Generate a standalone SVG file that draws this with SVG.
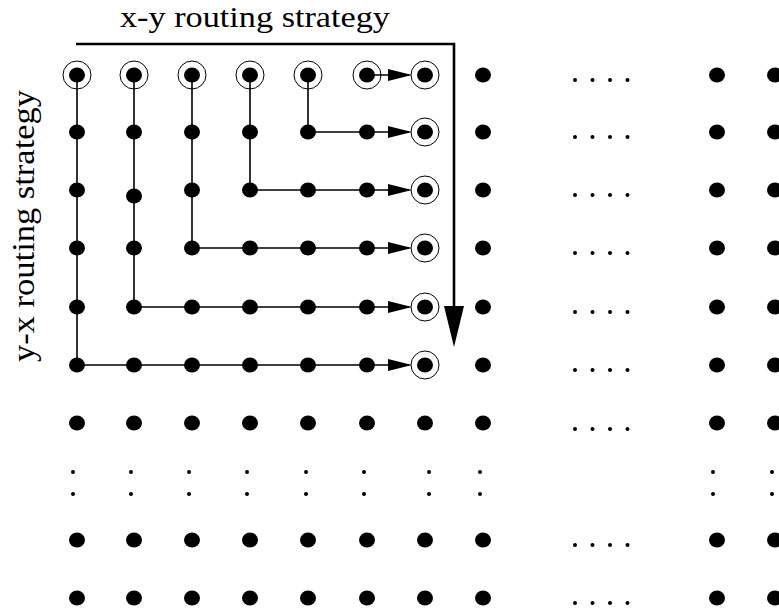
<svg xmlns="http://www.w3.org/2000/svg" width="779" height="614" viewBox="0 0 779 614">
<style>
.dot{fill:#000}
.ring{fill:none;stroke:#000;stroke-width:1}
.sd{fill:#000}
.route{fill:none;stroke:#000;stroke-width:1.6}
.big{fill:none;stroke:#000;stroke-width:2.6}
.lbl{font-family:"Liberation Serif","Times New Roman",serif;font-size:32px;fill:#000}
.top{font-size:30px}
</style>
<defs>
<marker id="ah" viewBox="0 0 24 12" refX="21" refY="6" markerWidth="24" markerHeight="12" markerUnits="userSpaceOnUse" orient="auto"><path d="M0 0 L24 6 L0 12 z" fill="#000"/></marker>
<marker id="bigah" viewBox="0 0 41 20" refX="14" refY="10" markerWidth="41" markerHeight="20" markerUnits="userSpaceOnUse" orient="auto"><path d="M0 0 L41 10 L0 20 z" fill="#000"/></marker>
</defs>
<rect width="779" height="614" fill="#fff"/>
<g id="label-xy"><text class="lbl top" x="120" y="27" textLength="270" lengthAdjust="spacingAndGlyphs">x-y routing strategy</text></g>
<g id="label-yx"><text class="lbl" transform="translate(34,362) rotate(-90)" x="0" y="0" textLength="272" lengthAdjust="spacingAndGlyphs">y-x routing strategy</text></g>
<g id="connectors">
<path class="big" d="M76 44 H454 V320" marker-end="url(#bigah)"/>
<path class="route" d="M77 75 V365 H409" marker-end="url(#ah)"/>
<path class="route" d="M134 75 V307 H409" marker-end="url(#ah)"/>
<path class="route" d="M192 75 V248 H409" marker-end="url(#ah)"/>
<path class="route" d="M250 75 V190 H409" marker-end="url(#ah)"/>
<path class="route" d="M308 75 V132 H409" marker-end="url(#ah)"/>
<path class="route" d="M367 75 H409" marker-end="url(#ah)"/>
</g>
<g id="row1">
<g id="n1-1"><circle class="ring" cx="77" cy="75" r="14"/><ellipse class="dot" cx="77" cy="75" rx="8" ry="7.5"/></g>
<g id="n1-2"><circle class="ring" cx="134" cy="75" r="14"/><ellipse class="dot" cx="134" cy="75" rx="8" ry="7.5"/></g>
<g id="n1-3"><circle class="ring" cx="192" cy="75" r="14"/><ellipse class="dot" cx="192" cy="75" rx="8" ry="7.5"/></g>
<g id="n1-4"><circle class="ring" cx="250" cy="75" r="14"/><ellipse class="dot" cx="250" cy="75" rx="8" ry="7.5"/></g>
<g id="n1-5"><circle class="ring" cx="308" cy="75" r="14"/><ellipse class="dot" cx="308" cy="75" rx="8" ry="7.5"/></g>
<g id="n1-6"><circle class="ring" cx="367" cy="75" r="14"/><ellipse class="dot" cx="367" cy="75" rx="8" ry="7.5"/></g>
<g id="n1-7"><circle class="ring" cx="425" cy="75" r="14"/><ellipse class="dot" cx="425" cy="75" rx="8" ry="7.5"/></g>
<g id="n1-8"><ellipse class="dot" cx="483" cy="75" rx="8" ry="7.5"/></g>
<g id="n1-9"><ellipse class="dot" cx="717" cy="75" rx="8" ry="7.5"/></g>
<g id="n1-10"><ellipse class="dot" cx="775" cy="75" rx="8" ry="7.5"/></g>
</g>
<g id="row2">
<g id="n2-1"><ellipse class="dot" cx="77" cy="132" rx="8" ry="7.5"/></g>
<g id="n2-2"><ellipse class="dot" cx="134" cy="132" rx="8" ry="7.5"/></g>
<g id="n2-3"><ellipse class="dot" cx="192" cy="132" rx="8" ry="7.5"/></g>
<g id="n2-4"><ellipse class="dot" cx="250" cy="132" rx="8" ry="7.5"/></g>
<g id="n2-5"><ellipse class="dot" cx="308" cy="132" rx="8" ry="7.5"/></g>
<g id="n2-6"><ellipse class="dot" cx="367" cy="132" rx="8" ry="7.5"/></g>
<g id="n2-7"><circle class="ring" cx="425" cy="132" r="14"/><ellipse class="dot" cx="425" cy="132" rx="8" ry="7.5"/></g>
<g id="n2-8"><ellipse class="dot" cx="483" cy="132" rx="8" ry="7.5"/></g>
<g id="n2-9"><ellipse class="dot" cx="717" cy="132" rx="8" ry="7.5"/></g>
<g id="n2-10"><ellipse class="dot" cx="775" cy="132" rx="8" ry="7.5"/></g>
</g>
<g id="row3">
<g id="n3-1"><ellipse class="dot" cx="77" cy="190" rx="8" ry="7.5"/></g>
<g id="n3-2"><ellipse class="dot" cx="134" cy="196" rx="8" ry="7.5"/></g>
<g id="n3-3"><ellipse class="dot" cx="192" cy="190" rx="8" ry="7.5"/></g>
<g id="n3-4"><ellipse class="dot" cx="250" cy="190" rx="8" ry="7.5"/></g>
<g id="n3-5"><ellipse class="dot" cx="308" cy="190" rx="8" ry="7.5"/></g>
<g id="n3-6"><ellipse class="dot" cx="367" cy="190" rx="8" ry="7.5"/></g>
<g id="n3-7"><circle class="ring" cx="425" cy="190" r="14"/><ellipse class="dot" cx="425" cy="190" rx="8" ry="7.5"/></g>
<g id="n3-8"><ellipse class="dot" cx="483" cy="190" rx="8" ry="7.5"/></g>
<g id="n3-9"><ellipse class="dot" cx="717" cy="190" rx="8" ry="7.5"/></g>
<g id="n3-10"><ellipse class="dot" cx="775" cy="190" rx="8" ry="7.5"/></g>
</g>
<g id="row4">
<g id="n4-1"><ellipse class="dot" cx="77" cy="248" rx="8" ry="7.5"/></g>
<g id="n4-2"><ellipse class="dot" cx="134" cy="248" rx="8" ry="7.5"/></g>
<g id="n4-3"><ellipse class="dot" cx="192" cy="248" rx="8" ry="7.5"/></g>
<g id="n4-4"><ellipse class="dot" cx="250" cy="248" rx="8" ry="7.5"/></g>
<g id="n4-5"><ellipse class="dot" cx="308" cy="248" rx="8" ry="7.5"/></g>
<g id="n4-6"><ellipse class="dot" cx="367" cy="248" rx="8" ry="7.5"/></g>
<g id="n4-7"><circle class="ring" cx="425" cy="248" r="14"/><ellipse class="dot" cx="425" cy="248" rx="8" ry="7.5"/></g>
<g id="n4-8"><ellipse class="dot" cx="483" cy="248" rx="8" ry="7.5"/></g>
<g id="n4-9"><ellipse class="dot" cx="717" cy="248" rx="8" ry="7.5"/></g>
<g id="n4-10"><ellipse class="dot" cx="775" cy="248" rx="8" ry="7.5"/></g>
</g>
<g id="row5">
<g id="n5-1"><ellipse class="dot" cx="77" cy="307" rx="8" ry="7.5"/></g>
<g id="n5-2"><ellipse class="dot" cx="134" cy="307" rx="8" ry="7.5"/></g>
<g id="n5-3"><ellipse class="dot" cx="192" cy="307" rx="8" ry="7.5"/></g>
<g id="n5-4"><ellipse class="dot" cx="250" cy="307" rx="8" ry="7.5"/></g>
<g id="n5-5"><ellipse class="dot" cx="308" cy="307" rx="8" ry="7.5"/></g>
<g id="n5-6"><ellipse class="dot" cx="367" cy="307" rx="8" ry="7.5"/></g>
<g id="n5-7"><circle class="ring" cx="425" cy="307" r="14"/><ellipse class="dot" cx="425" cy="307" rx="8" ry="7.5"/></g>
<g id="n5-8"><ellipse class="dot" cx="483" cy="307" rx="8" ry="7.5"/></g>
<g id="n5-9"><ellipse class="dot" cx="717" cy="307" rx="8" ry="7.5"/></g>
<g id="n5-10"><ellipse class="dot" cx="775" cy="307" rx="8" ry="7.5"/></g>
</g>
<g id="row6">
<g id="n6-1"><ellipse class="dot" cx="77" cy="365" rx="8" ry="7.5"/></g>
<g id="n6-2"><ellipse class="dot" cx="134" cy="365" rx="8" ry="7.5"/></g>
<g id="n6-3"><ellipse class="dot" cx="192" cy="365" rx="8" ry="7.5"/></g>
<g id="n6-4"><ellipse class="dot" cx="250" cy="365" rx="8" ry="7.5"/></g>
<g id="n6-5"><ellipse class="dot" cx="308" cy="365" rx="8" ry="7.5"/></g>
<g id="n6-6"><ellipse class="dot" cx="367" cy="365" rx="8" ry="7.5"/></g>
<g id="n6-7"><circle class="ring" cx="425" cy="365" r="14"/><ellipse class="dot" cx="425" cy="365" rx="8" ry="7.5"/></g>
<g id="n6-8"><ellipse class="dot" cx="483" cy="365" rx="8" ry="7.5"/></g>
<g id="n6-9"><ellipse class="dot" cx="717" cy="365" rx="8" ry="7.5"/></g>
<g id="n6-10"><ellipse class="dot" cx="775" cy="365" rx="8" ry="7.5"/></g>
</g>
<g id="row7">
<g id="n7-1"><ellipse class="dot" cx="77" cy="423" rx="8" ry="7.5"/></g>
<g id="n7-2"><ellipse class="dot" cx="134" cy="423" rx="8" ry="7.5"/></g>
<g id="n7-3"><ellipse class="dot" cx="192" cy="423" rx="8" ry="7.5"/></g>
<g id="n7-4"><ellipse class="dot" cx="250" cy="423" rx="8" ry="7.5"/></g>
<g id="n7-5"><ellipse class="dot" cx="308" cy="423" rx="8" ry="7.5"/></g>
<g id="n7-6"><ellipse class="dot" cx="367" cy="423" rx="8" ry="7.5"/></g>
<g id="n7-7"><ellipse class="dot" cx="425" cy="423" rx="8" ry="7.5"/></g>
<g id="n7-8"><ellipse class="dot" cx="483" cy="423" rx="8" ry="7.5"/></g>
<g id="n7-9"><ellipse class="dot" cx="717" cy="423" rx="8" ry="7.5"/></g>
<g id="n7-10"><ellipse class="dot" cx="775" cy="423" rx="8" ry="7.5"/></g>
</g>
<g id="row9">
<g id="n9-1"><ellipse class="dot" cx="77" cy="540" rx="8" ry="7.5"/></g>
<g id="n9-2"><ellipse class="dot" cx="134" cy="540" rx="8" ry="7.5"/></g>
<g id="n9-3"><ellipse class="dot" cx="192" cy="540" rx="8" ry="7.5"/></g>
<g id="n9-4"><ellipse class="dot" cx="250" cy="540" rx="8" ry="7.5"/></g>
<g id="n9-5"><ellipse class="dot" cx="308" cy="540" rx="8" ry="7.5"/></g>
<g id="n9-6"><ellipse class="dot" cx="367" cy="540" rx="8" ry="7.5"/></g>
<g id="n9-7"><ellipse class="dot" cx="425" cy="540" rx="8" ry="7.5"/></g>
<g id="n9-8"><ellipse class="dot" cx="483" cy="540" rx="8" ry="7.5"/></g>
<g id="n9-9"><ellipse class="dot" cx="717" cy="540" rx="8" ry="7.5"/></g>
<g id="n9-10"><ellipse class="dot" cx="775" cy="540" rx="8" ry="7.5"/></g>
</g>
<g id="row10">
<g id="n10-1"><ellipse class="dot" cx="77" cy="598" rx="8" ry="7.5"/></g>
<g id="n10-2"><ellipse class="dot" cx="134" cy="598" rx="8" ry="7.5"/></g>
<g id="n10-3"><ellipse class="dot" cx="192" cy="598" rx="8" ry="7.5"/></g>
<g id="n10-4"><ellipse class="dot" cx="250" cy="598" rx="8" ry="7.5"/></g>
<g id="n10-5"><ellipse class="dot" cx="308" cy="598" rx="8" ry="7.5"/></g>
<g id="n10-6"><ellipse class="dot" cx="367" cy="598" rx="8" ry="7.5"/></g>
<g id="n10-7"><ellipse class="dot" cx="425" cy="598" rx="8" ry="7.5"/></g>
<g id="n10-8"><ellipse class="dot" cx="483" cy="598" rx="8" ry="7.5"/></g>
<g id="n10-9"><ellipse class="dot" cx="717" cy="598" rx="8" ry="7.5"/></g>
<g id="n10-10"><ellipse class="dot" cx="775" cy="598" rx="8" ry="7.5"/></g>
</g>
<g id="ellipsis-h">
<g><circle class="sd" cx="575" cy="80" r="2"/><circle class="sd" cx="592.5" cy="80" r="2"/><circle class="sd" cx="610" cy="80" r="2"/><circle class="sd" cx="627.5" cy="80" r="2"/></g>
<g><circle class="sd" cx="575" cy="137" r="2"/><circle class="sd" cx="592.5" cy="137" r="2"/><circle class="sd" cx="610" cy="137" r="2"/><circle class="sd" cx="627.5" cy="137" r="2"/></g>
<g><circle class="sd" cx="575" cy="195" r="2"/><circle class="sd" cx="592.5" cy="195" r="2"/><circle class="sd" cx="610" cy="195" r="2"/><circle class="sd" cx="627.5" cy="195" r="2"/></g>
<g><circle class="sd" cx="575" cy="253" r="2"/><circle class="sd" cx="592.5" cy="253" r="2"/><circle class="sd" cx="610" cy="253" r="2"/><circle class="sd" cx="627.5" cy="253" r="2"/></g>
<g><circle class="sd" cx="575" cy="312" r="2"/><circle class="sd" cx="592.5" cy="312" r="2"/><circle class="sd" cx="610" cy="312" r="2"/><circle class="sd" cx="627.5" cy="312" r="2"/></g>
<g><circle class="sd" cx="575" cy="370" r="2"/><circle class="sd" cx="592.5" cy="370" r="2"/><circle class="sd" cx="610" cy="370" r="2"/><circle class="sd" cx="627.5" cy="370" r="2"/></g>
<g><circle class="sd" cx="575" cy="429" r="2"/><circle class="sd" cx="592.5" cy="429" r="2"/><circle class="sd" cx="610" cy="429" r="2"/><circle class="sd" cx="627.5" cy="429" r="2"/></g>
<g><circle class="sd" cx="575" cy="545" r="2"/><circle class="sd" cx="592.5" cy="545" r="2"/><circle class="sd" cx="610" cy="545" r="2"/><circle class="sd" cx="627.5" cy="545" r="2"/></g>
<g><circle class="sd" cx="575" cy="603" r="2"/><circle class="sd" cx="592.5" cy="603" r="2"/><circle class="sd" cx="610" cy="603" r="2"/><circle class="sd" cx="627.5" cy="603" r="2"/></g>
</g>
<g id="ellipsis-v">
<circle class="sd" cx="73" cy="472" r="2"/><circle class="sd" cx="73" cy="494" r="2"/>
<circle class="sd" cx="131" cy="472" r="2"/><circle class="sd" cx="131" cy="494" r="2"/>
<circle class="sd" cx="189" cy="472" r="2"/><circle class="sd" cx="189" cy="494" r="2"/>
<circle class="sd" cx="247" cy="472" r="2"/><circle class="sd" cx="247" cy="494" r="2"/>
<circle class="sd" cx="306" cy="472" r="2"/><circle class="sd" cx="306" cy="494" r="2"/>
<circle class="sd" cx="364" cy="472" r="2"/><circle class="sd" cx="364" cy="494" r="2"/>
<circle class="sd" cx="429" cy="472" r="2"/><circle class="sd" cx="429" cy="494" r="2"/>
<circle class="sd" cx="480" cy="472" r="2"/><circle class="sd" cx="480" cy="494" r="2"/>
<circle class="sd" cx="713" cy="472" r="2"/><circle class="sd" cx="713" cy="494" r="2"/>
<circle class="sd" cx="772" cy="472" r="2"/><circle class="sd" cx="772" cy="494" r="2"/>
</g>
</svg>
